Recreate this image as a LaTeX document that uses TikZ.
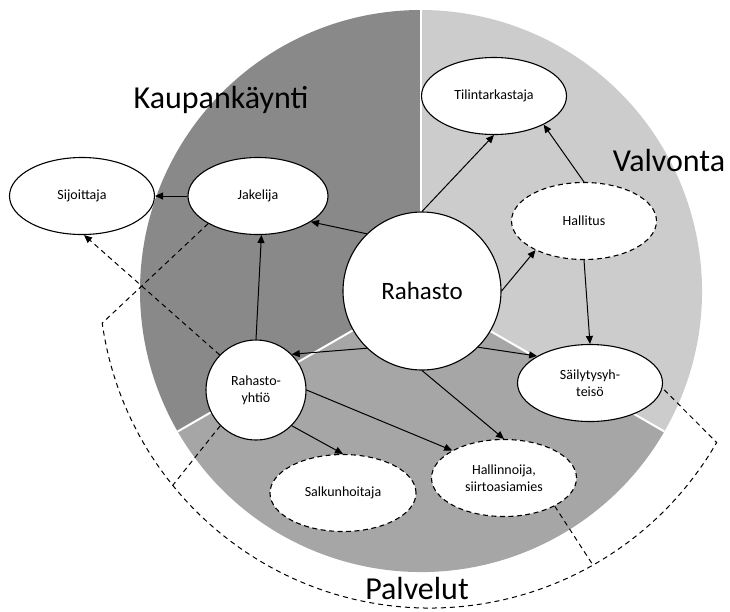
\documentclass[tikz,border=0pt]{standalone}
\usepackage{fontspec}
\setmainfont{Carlito}
\usetikzlibrary{arrows.meta,shapes.geometric}
\definecolor{sectordark}{RGB}{137,137,137}
\definecolor{sectorlight}{RGB}{204,204,204}
\definecolor{sectormid}{RGB}{166,166,166}

\begin{document}
\begin{tikzpicture}[x=1pt,y=1pt,
  actor/.style={ellipse, draw=black, fill=white, line width=1.1pt,
    minimum width=145pt, minimum height=77pt, inner sep=0pt,
    font=\fontsize{14}{17}\selectfont, align=center},
  support/.style={actor, dash pattern=on 5pt off 3.5pt},
  hub/.style={circle, draw=black, fill=white, line width=1.1pt, inner sep=0pt, align=center},
  flow/.style={-{Triangle[length=8pt,width=7pt]}, line width=1pt},
  link/.style={dash pattern=on 5pt off 4pt, line width=1pt},
  areatitle/.style={inner sep=0pt, font=\fontsize{32}{38}\selectfont},
  divider/.style={white, line width=2pt}
]
\useasboundingbox (0,-611) rectangle (730,0);

% three sectors of the outer disc
\coordinate (c) at (421,-291);
\fill[sectordark]  (c) -- ++(90:281)  arc[start angle=90,  end angle=210, radius=281] -- cycle;
\fill[sectorlight] (c) -- ++(-30:281) arc[start angle=-30, end angle=90,  radius=281] -- cycle;
\fill[sectormid]   (c) -- ++(210:281) arc[start angle=210, end angle=330, radius=281] -- cycle;
\draw[divider] (c) -- ++(90:281);
\draw[divider] (c) -- ++(210:281);
\draw[divider] (c) -- ++(330:281);

% area titles
\node[areatitle] (tkaup) at (221,-100) {Kaupankäynti};
\node[areatitle] (tvalv) at (669,-161) {Valvonta};
\node[areatitle] (tpalv) at (417,-588) {Palvelut};

% actors
\node[hub, minimum size=158pt, font=\fontsize{25}{30}\selectfont] (rahasto) at (422,-291) {Rahasto};
\node[hub, minimum size=100pt, font=\fontsize{14}{17}\selectfont] (ryhtio) at (256,-390) {Rahasto-\\yhtiö};
\node[actor] (tilin) at (494,-96) {Tilintarkastaja};
\node[support] (hallitus) at (584,-221) {Hallitus};
\node[actor, minimum width=140pt] (jakelija) at (258,-196) {Jakelija};
\node[actor] (sijoittaja) at (82,-196) {Sijoittaja};
\node[actor] (sailytys) at (590,-383) {Säilytysyh-\\teisö};
\node[support] (hallinnoija) at (504,-478) {Hallinnoija,\\siirtoasiamies};
\node[support, minimum width=146pt] (salkun) at (343,-493) {Salkunhoitaja};

% relations
\draw[flow] (rahasto.north) -- (tilin.south);
\draw[flow] (hallitus.north) -- (tilin.-30);
\draw[flow] (rahasto.east) -- (hallitus.211);
\draw[flow] (hallitus.south) -- (sailytys.north);
\draw[flow] (rahasto.134) -- (jakelija.-26);
\draw[flow] (jakelija.west) -- (sijoittaja.east);
\draw[flow] (ryhtio.north) -- (jakelija.-85);
\draw[flow] (rahasto.226) -- (ryhtio.45);
\draw[flow] (rahasto.-45) -- (sailytys.153);
\draw[flow] (rahasto.south) -- (hallinnoija.north);
\draw[flow] (ryhtio.east) -- (hallinnoija.152);
\draw[flow] (ryhtio.-45) -- (salkun.north);
\draw[link, -{Triangle[length=8pt,width=7pt]}] (ryhtio.136) -- (sijoittaja.-87);

% dashed bracket grouping the service providers
\coordinate (bc) at (430,-277);
\path (bc) ++(188:331) coordinate (bl);
\path (bc) ++(219:331) coordinate (bj1);
\path (bc) ++(299.5:331) coordinate (bj2);
\draw[link] (jakelija.209) -- (bl) arc[start angle=188, end angle=330, radius=331] -- (sailytys.-4);
\draw[link] (ryhtio.225) -- (bj1);
\draw[link] (hallinnoija.-29) -- (bj2);
\end{tikzpicture}
\end{document}
